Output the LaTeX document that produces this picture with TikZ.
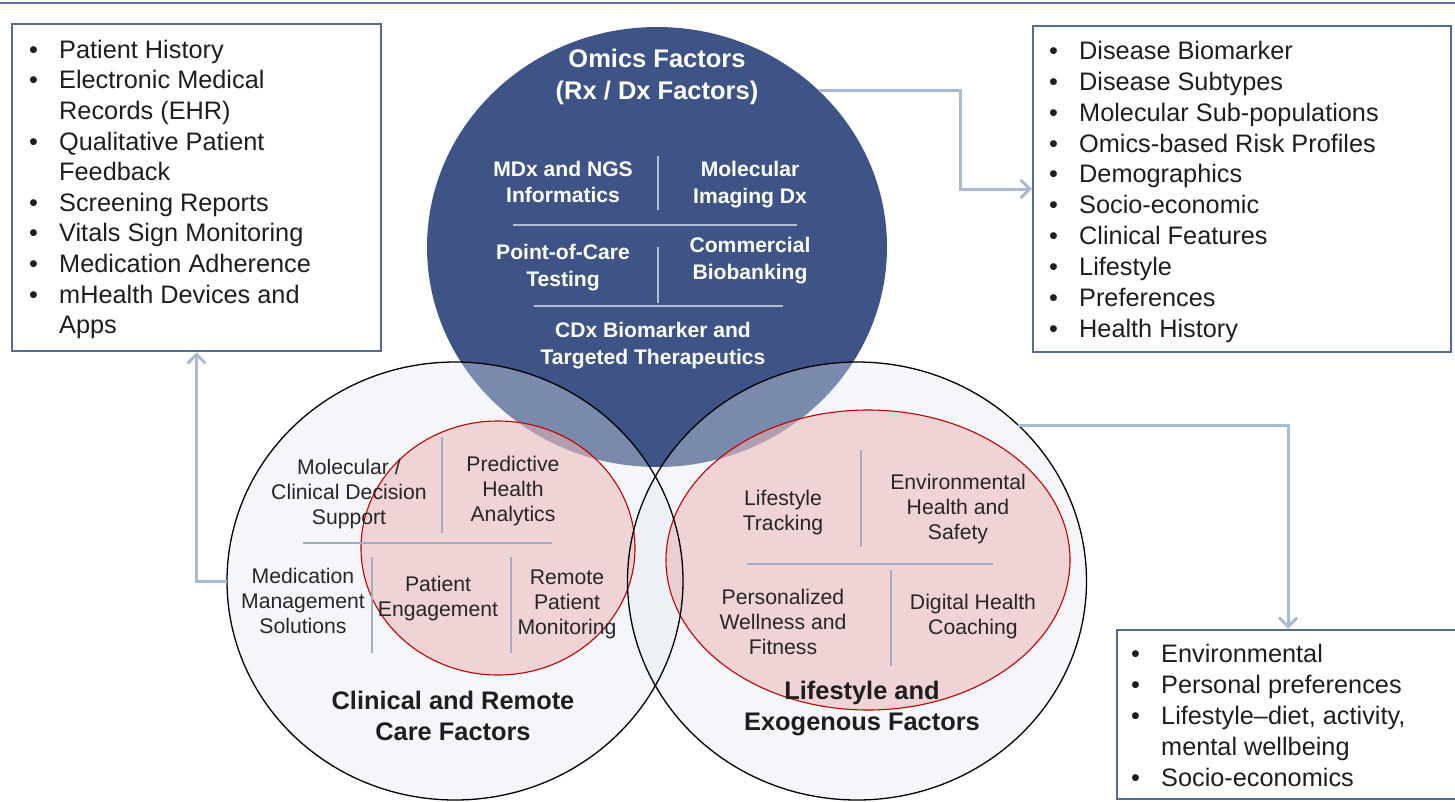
\documentclass[tikz,border=0pt]{standalone}
\usepackage{fontspec}
\setmainfont{Liberation Sans}
\usetikzlibrary{shapes.geometric,arrows.meta}
\definecolor{topline}{RGB}{90,114,150}
\definecolor{cream}{RGB}{255,252,244}
\definecolor{omicsblue}{RGB}{62,84,134}
\definecolor{boxline}{RGB}{84,108,143}
\definecolor{connblue}{RGB}{168,187,208}
\definecolor{pinkfill}{RGB}{235,178,178}
\definecolor{ringfill}{RGB}{226,231,240}
\definecolor{ellred}{RGB}{192,0,0}
\definecolor{divgray}{RGB}{160,173,196}
\definecolor{divlight}{RGB}{178,190,212}
\definecolor{bodytxt}{RGB}{30,30,30}
\definecolor{circtxt}{RGB}{38,38,38}
\tikzset{
  listbox/.style={rectangle, draw=boxline, line width=2.5pt, fill=white, inner sep=0pt},
  listtext/.style={anchor=base west, inner sep=0pt, text=bodytxt},
  ring/.style={ellipse, fill=ringfill, fill opacity=0.37, inner sep=0pt},
  ringline/.style={draw=black, line width=1.3pt},
  pinkell/.style={ellipse, fill=pinkfill, fill opacity=0.5, draw=ellred, draw opacity=1, line width=1.1pt, inner sep=0pt},
  celltxt/.style={align=center, inner sep=0pt, text=circtxt, font=\fontsize{21.2}{25}\selectfont},
  omicstxt/.style={align=center, inner sep=0pt, text=white, font=\bfseries\fontsize{21.1}{26.5}\selectfont},
  factortitle/.style={align=center, inner sep=0pt, text=bodytxt, font=\bfseries\fontsize{25.4}{31}\selectfont},
  divider/.style={draw=divgray, line width=1.2pt},
  omicsdiv/.style={draw=divlight, line width=1.5pt},
  conn/.style={draw=connblue, line width=3pt, -{Straight Barb[length=9pt,width=18pt]}},
}
\begin{document}
\begin{tikzpicture}[x=1pt,y=-1pt]
\useasboundingbox (0,0) rectangle (1455,801);
\fill[white] (0,0) rectangle (1455,801);
\fill[cream] (0,5) rectangle (1455,14);
\draw[topline, line width=2.5pt] (0,3) -- (1455,3);

% circles
\node[ellipse, fill=omicsblue, minimum width=460pt, minimum height=440pt, inner sep=0pt] (omics) at (657,247) {};
\node[ring, minimum width=456pt, minimum height=438pt] (clin) at (455,581) {};
\node[ring, minimum width=459pt, minimum height=438pt] (life) at (857,581) {};
\node[pinkell, minimum width=274pt, minimum height=254pt] (pinkL) at (498,548) {};
\node[pinkell, minimum width=404pt, minimum height=300pt] (pinkR) at (868,560) {};
\draw[ringline] (clin.center) ellipse [x radius=228pt, y radius=219pt];
\draw[ringline] (life.center) ellipse [x radius=229.5pt, y radius=219pt];

% omics contents
\node[align=center, inner sep=0pt, text=white, font=\bfseries\fontsize{25.5}{32}\selectfont] (omtitle) at (657,77) {Omics Factors\\(Rx / Dx Factors)};
\draw[omicsdiv] (658,156) -- (658,210);
\draw[omicsdiv] (513,225) -- (797,225);
\draw[omicsdiv] (658,247) -- (658,303);
\draw[omicsdiv] (534,306) -- (783,306);
\node[omicstxt] (mdx) at (563,182) {MDx and NGS\\Informatics};
\node[omicstxt] (molimg) at (750,184.5) {Molecular\\Imaging Dx};
\node[omicstxt] (poc) at (563,267.5) {Point-of-Care\\Testing};
\node[omicstxt] (biobank) at (750,260.5) {Commercial\\Biobanking};
\node[omicstxt] (cdx) at (653,345.5) {CDx Biomarker and\\Targeted Therapeutics};

% clinical circle contents
\draw[divider] (442,437) -- (442,533);
\draw[divider] (303,543) -- (552,543);
\draw[divider] (372,557) -- (372,653);
\draw[divider] (511,557) -- (511,653);
\node[celltxt] (cds) at (349,494.5) {Molecular /\\Clinical Decision\\Support};
\node[celltxt] (pha) at (513,491.3) {Predictive\\Health\\Analytics};
\node[celltxt] (mms) at (303,601.3) {Medication\\Management\\Solutions};
\node[celltxt] (peng) at (438,598.5) {Patient\\Engagement};
\node[celltxt] (rpm) at (567,604) {Remote\\Patient\\Monitoring};
\node[factortitle] (clintitle) at (453,715.5) {Clinical and Remote\\Care Factors};

% lifestyle circle contents
\draw[divider] (861,450) -- (861,547);
\draw[divider] (747,564) -- (993,564);
\draw[divider] (891,570) -- (891,666);
\node[celltxt] (ltrack) at (783,513) {Lifestyle\\Tracking};
\node[celltxt] (ehs) at (958,509) {Environmental\\Health and\\Safety};
\node[celltxt] (pwf) at (783,622) {Personalized\\Wellness and\\Fitness};
\node[celltxt] (dhc) at (973,617) {Digital Health\\Coaching};
\node[factortitle] (lifetitle) at (862,708) {Lifestyle and\\Exogenous Factors};

% boxes
\node[listbox, minimum width=369pt, minimum height=327pt] (lbox) at (196.5,187.5) {};
\node[listbox, minimum width=418pt, minimum height=326pt] (rbox) at (1242,189) {};
\node[listbox, minimum width=342pt, minimum height=169pt] (brbox) at (1288,714.5) {};

\node[listtext, font=\fontsize{25.3}{30.6}\selectfont] (ltext) at (29,58.3) {\begin{tabular}[t]{@{}p{30pt}@{}l@{}}
• & Patient History\\
• & Electronic Medical\\
  & Records (EHR)\\
• & Qualitative Patient\\
  & Feedback\\
• & Screening Reports\\
• & Vitals Sign Monitoring\\
• & Medication Adherence\\
• & mHealth Devices and\\
  & Apps
\end{tabular}};

\node[listtext, font=\fontsize{25.3}{30.9}\selectfont] (rtext) at (1049,59.3) {\begin{tabular}[t]{@{}p{30pt}@{}l@{}}
• & Disease Biomarker\\
• & Disease Subtypes\\
• & Molecular Sub-populations\\
• & Omics-based Risk Profiles\\
• & Demographics\\
• & Socio-economic\\
• & Clinical Features\\
• & Lifestyle\\
• & Preferences\\
• & Health History
\end{tabular}};

\node[listtext, font=\fontsize{25.3}{31.2}\selectfont] (brtext) at (1131,662) {\begin{tabular}[t]{@{}p{30pt}@{}l@{}}
• & Environmental\\
• & Personal preferences\\
• & Lifestyle–diet, activity,\\
  & mental wellbeing\\
• & Socio-economics
\end{tabular}};

% connectors
\coordinate (bendA) at (960,0);
\draw[conn] (omics.44) -- (omics.44 -| bendA) |- (rbox.west);
\draw[conn] (clin.west) -| (lbox.south);
\draw[conn] (life.44) -| (brbox.north);
\end{tikzpicture}
\end{document}
